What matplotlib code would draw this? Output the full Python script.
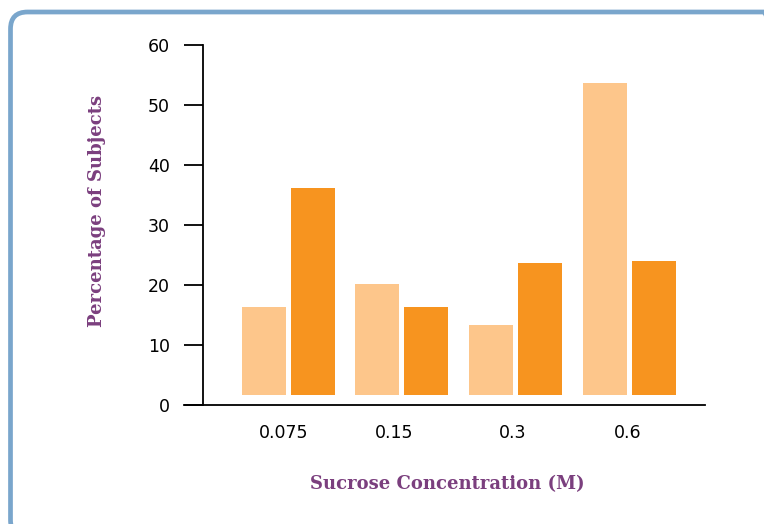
import matplotlib
matplotlib.use("Agg")
import matplotlib.pyplot as plt
from matplotlib.patches import FancyBboxPatch
import numpy as np

# data (bar tops, in percent)
concentrations = ["0.075", "0.15", "0.3", "0.6"]
light_vals = [16.3, 20.2, 13.3, 53.7]
dark_vals = [36.2, 16.3, 23.7, 24.0]
yticks = [0, 10, 20, 30, 40, 50, 60]

base = 1.7  # bars float a little above the axis in the original
light_col = "#fdc68b"
dark_col = "#f7941f"
purple = "#7b3f7e"

W, H = 764, 524
fig = plt.figure(figsize=(W / 100, H / 100), dpi=100)

# rounded frame (in inches), running off the right and bottom edges
frame = FancyBboxPatch((0.105, -0.13), 7.70, 5.25,
                       boxstyle="round,pad=0,rounding_size=0.17",
                       transform=fig.dpi_scale_trans, facecolor="none",
                       edgecolor="#7aa6cc", linewidth=3.4, clip_on=False)
fig.patches.append(frame)

ax = fig.add_axes([184 / W, 1 - 405 / H, (705 - 184) / W, (405 - 45) / H])

x = np.arange(len(concentrations))
px = 113.7  # pixels per group
bw = 44 / px
off = 24.5 / px
ax.bar(x - off, np.array(light_vals) - base, bottom=base, width=bw, color=light_col)
ax.bar(x + off, np.array(dark_vals) - base, bottom=base, width=bw, color=dark_col)

ax.set_xlim((184 - 288) / px, (705 - 288) / px)
ax.set_ylim(0, 60)
ax.spines["top"].set_visible(False)
ax.spines["right"].set_visible(False)
ax.spines["left"].set_position(("data", (203 - 288) / px))
ax.spines["left"].set_linewidth(1.3)
ax.spines["bottom"].set_linewidth(1.3)

ax.set_yticks(yticks)
ax.tick_params(axis="y", direction="out", length=14, width=1.3, pad=10, labelsize=12.5)
# labels sit a little left of the group centres in the original
ax.set_xticks(x - np.array([4, 8, 3, 1]) / px)
ax.set_xticklabels(concentrations)
ax.tick_params(axis="x", length=0, pad=14, labelsize=12.5)

fig.text(447 / W, 1 - 484 / H, "Sucrose Concentration (M)", color=purple,
         fontsize=13, fontweight="bold", family="DejaVu Serif",
         ha="center", va="center")
fig.text(97 / W, 1 - 211 / H, "Percentage of Subjects", color=purple,
         fontsize=13, fontweight="bold", family="DejaVu Serif",
         ha="center", va="center", rotation=90)

fig.savefig("out.png", dpi=100)
